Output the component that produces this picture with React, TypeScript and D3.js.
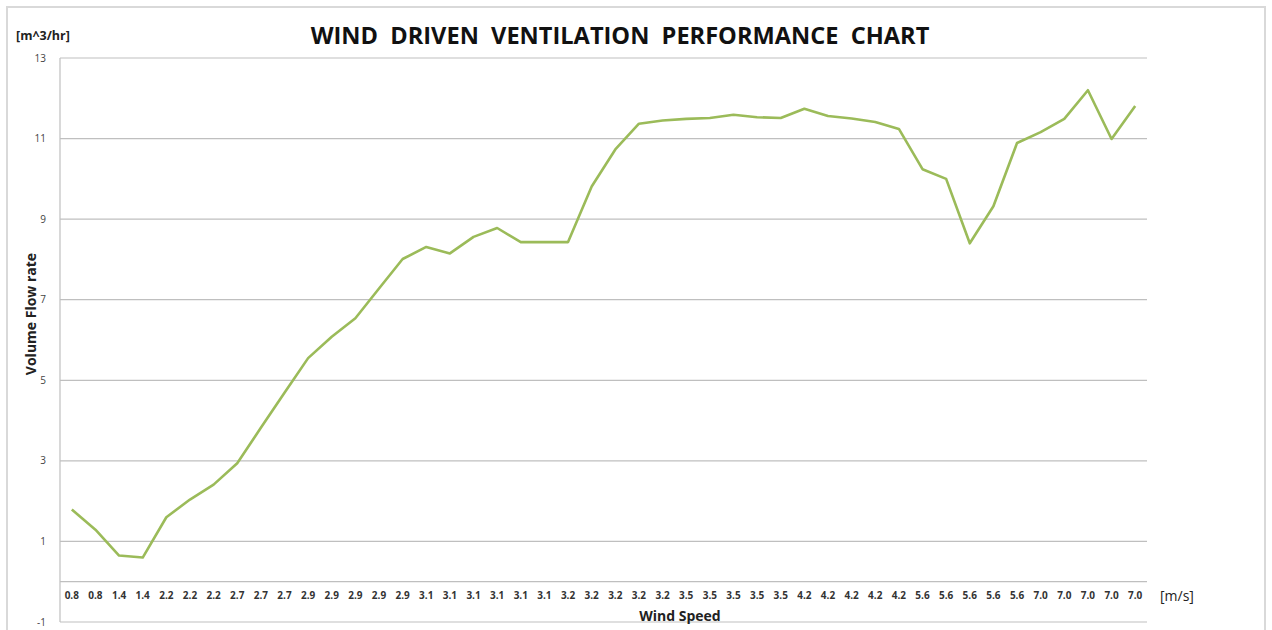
import React from "react";
import * as d3 from "d3";

const categories: string[] = [
  "0.8","0.8","1.4","1.4","2.2","2.2","2.2","2.7","2.7","2.7",
  "2.9","2.9","2.9","2.9","2.9","3.1","3.1","3.1","3.1","3.1","3.1",
  "3.2","3.2","3.2","3.2","3.2","3.5","3.5","3.5","3.5","3.5",
  "4.2","4.2","4.2","4.2","4.2","5.6","5.6","5.6","5.6","5.6",
  "7.0","7.0","7.0","7.0","7.0",
];

const flowRate: number[] = [
  1.79, 1.29, 0.65, 0.6, 1.6, 2.04, 2.41, 2.94, 3.82, 4.69,
  5.55, 6.08, 6.54, 7.28, 8.01, 8.31, 8.15, 8.56, 8.78, 8.43, 8.43,
  8.43, 9.81, 10.73, 11.37, 11.45, 11.49, 11.51, 11.59, 11.53, 11.51,
  11.74, 11.56, 11.5, 11.41, 11.24, 10.24, 10.0, 8.4, 9.32, 10.89,
  11.16, 11.49, 12.2, 10.99, 11.81,
];

const yTicks: number[] = [-1, 1, 3, 5, 7, 9, 11, 13];

export default function App() {
  const W = 1272, H = 630;
  const left = 60, right = 1147, top = 58, bottom = 622;
  const x = d3.scaleBand<number>().domain(categories.map((_, i) => i)).range([left, right]);
  const y = d3.scaleLinear().domain([-1, 13]).range([bottom, top]);
  const line = d3.line<number>()
    .x((_, i) => (x(i) as number) + x.bandwidth() / 2)
    .y((d) => y(d));
  const font = "'Open Sans', 'Liberation Sans', sans-serif";
  return (
    <svg width={W} height={H} style={{ position: "absolute", left: 0, top: 0, background: "#fff" }}>
      <rect x={7} y={7} width={1258} height={640} fill="#fff" stroke="#d9d9d9" strokeWidth={2} />
      {yTicks.map((t) => (
        <g key={t}>
          <line x1={left} x2={right} y1={y(t)} y2={y(t)} stroke="#bfbfbf" strokeWidth={1.2} />
          <text x={46} y={y(t) + 3.5} textAnchor="end" fontSize={10} fill="#444" fontFamily={font}>{t}</text>
        </g>
      ))}
      <line x1={left} x2={right} y1={y(0)} y2={y(0)} stroke="#bfbfbf" strokeWidth={1.2} />
      <line x1={left} x2={left} y1={top} y2={bottom} stroke="#bfbfbf" strokeWidth={1.2} />
      {categories.map((c, i) => (
        <text key={i} x={(x(i) as number) + x.bandwidth() / 2} y={599} textAnchor="middle"
          fontSize={10} fontWeight="bold" fill="#333" fontFamily={font}>{c}</text>
      ))}
      <path d={line(flowRate) || ""} fill="none" stroke="#9bbb59" strokeWidth={2.6} strokeLinejoin="round" />
      <text x={620} y={44} textAnchor="middle" fontSize={23.6} fontWeight="bold" fill="#111" fontFamily={font}
        style={{ whiteSpace: "pre" }}>{"WIND  DRIVEN  VENTILATION  PERFORMANCE  CHART"}</text>
      <text x={16} y={40} fontSize={12.5} fontWeight="bold" fill="#222" fontFamily={font}>[m^3/hr]</text>
      <text transform={`translate(36,${314}) rotate(-90)`} textAnchor="middle" fontSize={14} fontWeight="bold"
        fill="#222" fontFamily={font}>Volume Flow rate</text>
      <text x={680} y={621} textAnchor="middle" fontSize={14} fontWeight="bold" fill="#222" fontFamily={font}>Wind Speed</text>
      <text x={1160} y={601} fontSize={14} fill="#222" fontFamily={font}>[m/s]</text>
    </svg>
  );
}
